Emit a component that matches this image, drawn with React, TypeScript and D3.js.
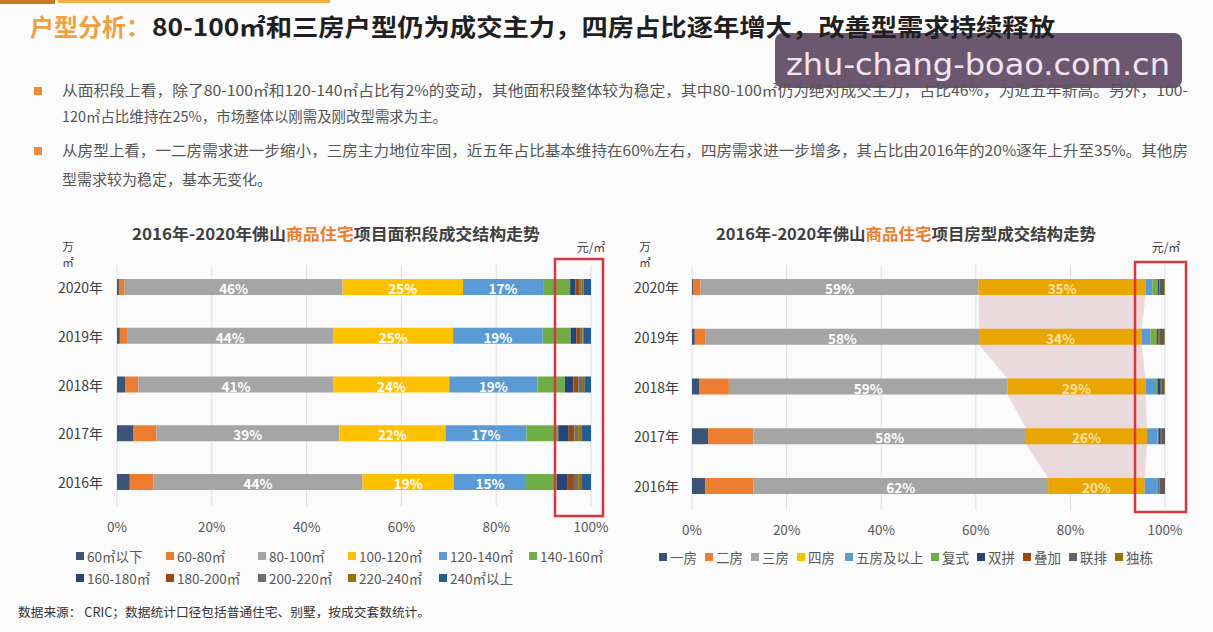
import React from "react";
import * as d3 from "d3";

const W = 1213;
const H = 632;
const FONT = '"Noto Sans CJK SC","Noto Sans",sans-serif';

// ---------------- data ----------------
const years = ["2020年", "2019年", "2018年", "2017年", "2016年"];
const tickValues = [0, 20, 40, 60, 80, 100];

const areaCategories = ["60㎡以下", "60-80㎡", "80-100㎡", "100-120㎡", "120-140㎡", "140-160㎡", "160-180㎡", "180-200㎡", "200-220㎡", "220-240㎡", "240㎡以上"];
const area2020 = [0.4, 1.2, 46.0, 25.4, 16.9, 5.7, 1.1, 0.8, 0.5, 0.4, 1.6];
const area2019 = [0.6, 1.5, 43.6, 25.2, 18.9, 5.9, 1.2, 0.8, 0.5, 0.3, 1.5];
const area2018 = [1.7, 2.8, 41.2, 24.4, 18.6, 5.8, 1.8, 1.0, 0.8, 0.5, 1.4];
const area2017 = [3.5, 4.8, 38.6, 22.4, 17.1, 6.7, 2.2, 1.2, 0.8, 0.7, 2.0];
const area2016 = [2.7, 5.0, 44.1, 19.3, 15.2, 6.5, 2.3, 1.3, 0.9, 0.8, 1.9];
const areaRows = [area2020, area2019, area2018, area2017, area2016];

const roomCategories = ["一房", "二房", "三房", "四房", "五房及以上", "复式", "双拼", "叠加", "联排", "独栋"];
const room2020 = [0.2, 1.6, 58.8, 35.3, 1.4, 1.2, 0.3, 0.1, 1.0, 0.1];
const room2019 = [0.6, 2.3, 57.8, 34.4, 1.8, 1.4, 0.3, 0.3, 1.0, 0.1];
const room2018 = [1.6, 6.2, 58.9, 29.2, 2.2, 0.3, 0.7, 0.1, 0.7, 0.1];
const room2017 = [3.4, 9.6, 57.6, 25.6, 2.2, 0.2, 0.5, 0.1, 0.8, 0.0];
const room2016 = [2.8, 10.2, 62.3, 20.4, 2.6, 0.3, 0.2, 0.1, 1.1, 0.0];
const roomRows = [room2020, room2019, room2018, room2017, room2016];

// ---------------- styles ----------------
const areaColors = ["#3a5577", "#ED7D31", "#A5A5A5", "#FFC000", "#5B9BD5", "#70AD47", "#264478", "#9E480E", "#6f6f6f", "#997300", "#255E91"];
const roomColors = ["#3a5577", "#ED7D31", "#A5A5A5", "#FFC000", "#5B9BD5", "#70AD47", "#264478", "#9E480E", "#636363", "#997300"];
const roomBarColors = ["#3a5577", "#ED7D31", "#A5A5A5", "#EAA600", "#5B9BD5", "#70AD47", "#264478", "#9E480E", "#5e5a56", "#997300"];

type ChartProps = {
  rows: number[][];
  barColors: string[];
  labelColors: (i: number) => string;
  x0: number;
  x1: number;
  yFirst: number;
  yLast: number;
  gridTop: number;
  gridBottom: number;
  tickY: number;
  yearX: number;
  highlight?: number;
  title: [string, string, string];
  titleX: number;
  titleW: number;
  unitX: number;
  priceX: number;
  redBox: [number, number, number, number];
};

function StackedChart(p: ChartProps) {
  const x = d3.scaleLinear().domain([0, 100]).range([p.x0, p.x1]);
  const n = years.length;
  const step = (p.yLast - p.yFirst) / (n - 1);
  const barH = 16;
  const pi = 1 - barH / step;
  const y = d3
    .scaleBand<string>()
    .domain(years)
    .range([p.yFirst - step / 2, p.yLast + step / 2])
    .paddingInner(pi)
    .paddingOuter(pi / 2);

  const stacked = p.rows.map((row) => {
    const ends = d3.cumsum(row);
    return row.map((v, i) => ({ v, s: ends[i] - v, e: ends[i], i }));
  });

  let overlay: string | null = null;
  if (p.highlight !== undefined) {
    const h = p.highlight;
    const left: [number, number][] = [];
    const right: [number, number][] = [];
    stacked.forEach((segs, r) => {
      const seg = segs[h];
      const yt = y(years[r])!;
      const yb = yt + y.bandwidth();
      left.push([x(seg.s), yt], [x(seg.s), yb]);
      right.push([x(seg.e), yt], [x(seg.e), yb]);
    });
    const pts = left.concat(right.reverse());
    overlay = d3.line()(pts) + "Z";
  }

  return (
    <g>
      <text x={p.titleX} y={240} fontSize={16} fontWeight={700} fill="#404040" textAnchor="middle" fontFamily={FONT} textLength={p.titleW} lengthAdjust="spacingAndGlyphs">
        <tspan>{p.title[0]}</tspan>
        <tspan fill="#ED7D31">{p.title[1]}</tspan>
        <tspan>{p.title[2]}</tspan>
      </text>
      <text x={p.unitX} y={251} fontSize={11.5} fill="#404040" textAnchor="middle" fontFamily={FONT}>万</text>
      <text x={p.unitX} y={267} fontSize={11.5} fill="#404040" textAnchor="middle" fontFamily={FONT}>㎡</text>
      <text x={p.priceX} y={252} fontSize={12} fill="#404040" textAnchor="middle" fontFamily={FONT}>元/㎡</text>

      {overlay && <path d={overlay} fill="#eadadd" />}

      {tickValues.map((t) => (
        <g key={t}>
          <line x1={x(t)} x2={x(t)} y1={p.gridTop} y2={p.gridBottom} stroke="#dedede" strokeWidth={1} />
          <text x={x(t)} y={p.tickY} fontSize={13.5} fill="#595959" textAnchor="middle" dominantBaseline="central" fontFamily={FONT}>
            {t}%
          </text>
        </g>
      ))}

      {stacked.map((segs, r) => (
        <g key={years[r]}>
          <text x={p.yearX} y={y(years[r])! + y.bandwidth() / 2} fontSize={14} fill="#404040" textAnchor="end" dominantBaseline="central" fontFamily={FONT}>
            {years[r]}
          </text>
          {segs.map((sg) => (
            <rect key={sg.i} x={x(sg.s)} y={y(years[r])!} width={Math.max(0, x(sg.e) - x(sg.s))} height={y.bandwidth()} fill={p.barColors[sg.i]} />
          ))}
          {segs
            .filter((sg) => sg.v >= 12)
            .map((sg) => (
              <text
                key={"l" + sg.i}
                x={(x(sg.s) + x(sg.e)) / 2}
                y={y(years[r])! + y.bandwidth() / 2 + 1}
                fontSize={13.5}
                fontWeight={700}
                fill={p.labelColors(sg.i)}
                textAnchor="middle"
                dominantBaseline="central"
                fontFamily={FONT}
              >
                {Math.round(sg.v)}%
              </text>
            ))}
        </g>
      ))}

      <rect x={p.redBox[0]} y={p.redBox[1]} width={p.redBox[2]} height={p.redBox[3]} fill="none" stroke="#d9363e" strokeWidth={2.5} />
    </g>
  );
}

function Legend({ items, colors, xs, ys }: { items: string[]; colors: string[]; xs: number[]; ys: number[] }) {
  return (
    <g>
      {items.map((it, i) => (
        <g key={it}>
          <rect x={xs[i]} y={ys[i] - 4} width={8} height={8} fill={colors[i]} />
          <text x={xs[i] + 11} y={ys[i]} fontSize={13.5} fill="#595959" dominantBaseline="central" fontFamily={FONT}>
            {it}
          </text>
        </g>
      ))}
    </g>
  );
}

export default function App() {
  const areaLegendCols = [76, 166, 258, 348, 439, 529];
  const areaLegendX = areaCategories.map((_, i) => areaLegendCols[i % 6]);
  const areaLegendY = areaCategories.map((_, i) => (i < 6 ? 556 : 578));
  const roomLegendX = [659, 705, 751, 797, 845, 931, 977, 1023, 1069, 1115];
  const roomLegendY = roomCategories.map(() => 557);

  return (
    <div style={{ position: "absolute", left: 0, top: 0, width: W, height: H }}>
      <svg width={W} height={H} viewBox={`0 0 ${W} ${H}`} style={{ display: "block" }}>
        <rect x={0} y={0} width={W} height={H} fill="#fbfbfb" />
        {/* top decoration */}
        <rect x={0} y={0} width={55} height={4} fill="#c8781e" />
        <rect x={58} y={0} width={272} height={3} fill="#f2b24a" />

        {/* watermark */}
        <rect x={775} y={33} width={407} height={55} rx={8} fill="#6b5870" />
        <text x={978} y={75} fontSize={31} fill="#f4e4f0" textAnchor="middle" fontFamily='"DejaVu Sans","Noto Sans",sans-serif' textLength={384} lengthAdjust="spacingAndGlyphs">
          zhu-chang-boao.com.cn
        </text>

        {/* title */}
        <text x={30} y={36} fontSize={24} fontWeight={700} fill="#F0A040" fontFamily={FONT} textLength={120} lengthAdjust="spacingAndGlyphs">
          户型分析：
        </text>
        <text x={152} y={36} fontSize={24} fontWeight={700} fill="#1f1f1f" fontFamily={FONT} textLength={903} lengthAdjust="spacingAndGlyphs">
          80-100㎡和三房户型仍为成交主力，四房占比逐年增大，改善型需求持续释放
        </text>

        {/* bullets */}
        <rect x={34} y={87} width={8} height={8} fill="#F08A3C" />
        <rect x={34} y={147} width={8} height={8} fill="#F08A3C" />
        <g fontFamily={FONT} fontSize={14.5} fill="#555555">
          <text x={62} y={96} textLength={1126} lengthAdjust="spacingAndGlyphs">
            从面积段上看，除了80-100㎡和120-140㎡占比有2%的变动，其他面积段整体较为稳定，其中80-100㎡仍为绝对成交主力，占比46%，为近五年新高。另外，100-
          </text>
          <text x={62} y={122} textLength={385} lengthAdjust="spacingAndGlyphs">
            120㎡占比维持在25%，市场整体以刚需及刚改型需求为主。
          </text>
          <text x={62} y={156} textLength={1126} lengthAdjust="spacingAndGlyphs">
            从房型上看，一二房需求进一步缩小，三房主力地位牢固，近五年占比基本维持在60%左右，四房需求进一步增多，其占比由2016年的20%逐年上升至35%。其他房
          </text>
          <text x={62} y={185} textLength={210} lengthAdjust="spacingAndGlyphs">
            型需求较为稳定，基本无变化。
          </text>
        </g>

        <StackedChart
          rows={areaRows}
          barColors={areaColors}
          labelColors={() => "#ffffff"}
          x0={117}
          x1={591}
          yFirst={287}
          yLast={482}
          gridTop={265}
          gridBottom={506}
          tickY={526}
          yearX={103}
          title={["2016年-2020年佛山", "商品住宅", "项目面积段成交结构走势"]}
          titleX={336}
          titleW={408}
          unitX={68}
          priceX={591}
          redBox={[555, 259, 48, 257]}
        />
        <StackedChart
          rows={roomRows}
          barColors={roomBarColors}
          labelColors={(i) => (i === 3 ? "#fbe2a0" : "#ffffff")}
          x0={692}
          x1={1165}
          yFirst={287}
          yLast={486}
          gridTop={265}
          gridBottom={510}
          tickY={529}
          yearX={679}
          highlight={3}
          title={["2016年-2020年佛山", "商品住宅", "项目房型成交结构走势"]}
          titleX={906}
          titleW={380}
          unitX={645}
          priceX={1166}
          redBox={[1135, 262, 51, 250]}
        />

        <Legend items={areaCategories} colors={areaColors} xs={areaLegendX} ys={areaLegendY} />
        <Legend items={roomCategories} colors={roomColors} xs={roomLegendX} ys={roomLegendY} />

        <text x={18} y={617} fontSize={12.5} fill="#333333" fontFamily={FONT} textLength={412} lengthAdjust="spacingAndGlyphs">
          数据来源：  CRIC；数据统计口径包括普通住宅、别墅，按成交套数统计。
        </text>
      </svg>
    </div>
  );
}
